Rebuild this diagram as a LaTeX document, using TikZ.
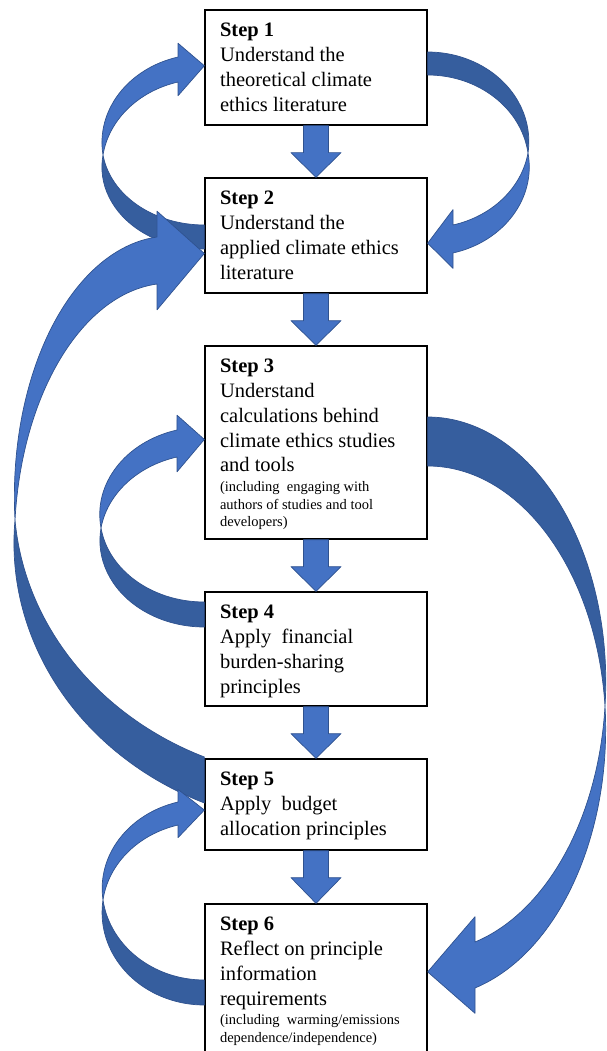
\documentclass[tikz,border=0pt]{standalone}
\usepackage{fontspec}
\setmainfont{Liberation Serif}
\usetikzlibrary{calc}

\definecolor{arrowfront}{RGB}{68,114,196}
\definecolor{arrowback}{RGB}{54,94,158}
\definecolor{arrowline}{RGB}{47,82,143}

\tikzset{
  stepbox/.style={draw=black, line width=1.3pt, fill=white, minimum width=222pt, inner sep=0pt},
  steptext/.style={anchor=base west, inner sep=0pt, text=black},
  front/.style={fill=arrowfront, draw=arrowline, line width=0.7pt, line join=round},
  back/.style={fill=arrowback, draw=arrowline, line width=0.7pt, line join=round},
}

\newcommand{\mainsize}{\fontsize{20.5pt}{24.8pt}\selectfont}
\newcommand{\notesize}{\fontsize{14.5pt}{17.6pt}\selectfont}
\newcommand{\steplines}[2]{\parbox[t]{205pt}{\raggedright\mainsize\textbf{#1}\\#2}}

% straight block arrow from the bottom of one box to the top of the next
\newcommand{\downstep}[2]{%
  \path[front] ($(#1.south)+(-12.5,0)$) -- ($(#1.south)+(12.5,0)$)
    -- ($(#1.south)+(12.5,-27)$) -- ($(#1.south)+(25,-27)$) -- (#2.north)
    -- ($(#1.south)+(-25,-27)$) -- ($(#1.south)+(-12.5,-27)$) -- cycle;}

% geometry of a curved block arrow (y values measured downwards):
% xc,yc  twist point; tt,tb  tail edges; xh  head base x; bt,bb  band edges at the head;
% fcx, dcx  centre x of the front and back ellipse pairs
\pgfkeys{/loopgeo/.cd,
  xc/.store in=\Gxc, yc/.store in=\Gyc,
  tt/.store in=\Gtt, tb/.store in=\Gtb,
  xh/.store in=\Gxh, bt/.store in=\Gbt, bb/.store in=\Gbb,
  fcx/.store in=\Gfcx, dcx/.store in=\Gdcx}

% loop on the left: tail at the west side of #1, head at the west side of #2
\newcommand{\loopleft}[3]{%
  \pgfkeys{/loopgeo/.cd,#3}%
  \path (#1.west); \pgfgetlastxy{\Ltx}{\Lty}%
  \pgfmathsetmacro{\Lthf}{\Gbb - \Gbt}%
  \pgfmathsetmacro{\Lyo}{\Gyc - \Lthf/2}%
  \pgfmathsetmacro{\Lrxf}{\Gfcx - \Gxc}%
  \pgfmathsetmacro{\Ldx}{(\Gxh - \Gfcx)/\Lrxf}%
  \pgfmathsetmacro{\Lryf}{(\Lyo - \Gbt)/sqrt(1 - \Ldx*\Ldx)}%
  \pgfmathsetmacro{\Lrxf}{(\Gfcx - \Gxc)/sqrt(1 - (\Lthf/(2*\Lryf))^2)}%
  \pgfmathsetmacro{\Ldx}{(\Gxh - \Gfcx)/\Lrxf}%
  \pgfmathsetmacro{\Lryf}{(\Lyo - \Gbt)/sqrt(1 - \Ldx*\Ldx)}%
  \pgfmathsetmacro{\Laf}{asin(\Lthf/(2*\Lryf))}%
  \pgfmathsetmacro{\Lah}{atan2((\Lyo - \Gbt)/\Lryf, \Ldx)}%
  \pgfmathsetmacro{\Lbarbt}{\Gbt - 0.55*\Lthf}%
  \pgfmathsetmacro{\Lbarbb}{\Gbb + 0.55*\Lthf}%
  \pgfmathsetmacro{\Ltipy}{(\Gbt + \Gbb)/2 - 0.15*\Lthf}%
  \pgfmathsetmacro{\Lthd}{\Gtb - \Gtt}%
  \pgfmathsetmacro{\Lyd}{\Gyc + \Lthd/2}%
  \pgfmathsetmacro{\Lrxd}{\Gdcx - \Gxc}%
  \pgfmathsetmacro{\Ldx}{(\Ltx - \Gdcx)/\Lrxd}%
  \pgfmathsetmacro{\Lryd}{(\Gtb - \Lyd)/sqrt(1 - \Ldx*\Ldx)}%
  \pgfmathsetmacro{\Lrxd}{(\Gdcx - \Gxc)/sqrt(1 - (\Lthd/(2*\Lryd))^2)}%
  \pgfmathsetmacro{\Ldx}{(\Ltx - \Gdcx)/\Lrxd}%
  \pgfmathsetmacro{\Lryd}{(\Gtb - \Lyd)/sqrt(1 - \Ldx*\Ldx)}%
  \pgfmathsetmacro{\Lad}{asin(\Lthd/(2*\Lryd))}%
  \pgfmathsetmacro{\Lat}{atan2(-(\Gtb - \Lyd)/\Lryd, \Ldx) + 360}%
  \path[back] (\Gxc,-\Gyc)
    arc[start angle=180-\Lad, end angle=\Lat, x radius=\Lrxd pt, y radius=\Lryd pt]
    -- (#1.west |- 0,-\Gtt)
    arc[start angle=\Lat, end angle=180+\Lad, x radius=\Lrxd pt, y radius=\Lryd pt] -- cycle;
  \path[front] (\Gxc,-\Gyc)
    arc[start angle=180+\Laf, end angle=\Lah, x radius=\Lrxf pt, y radius=\Lryf pt]
    -- (\Gxh,-\Lbarbt) -- (#2.west |- 0,-\Ltipy) -- (\Gxh,-\Lbarbb) -- (\Gxh,-\Gbb)
    arc[start angle=\Lah, end angle=180-\Laf, x radius=\Lrxf pt, y radius=\Lryf pt] -- cycle;
}

% loop on the right: tail at the east side of #1, head at the east side of #2
\newcommand{\loopright}[3]{%
  \pgfkeys{/loopgeo/.cd,#3}%
  \path (#1.east); \pgfgetlastxy{\Ltx}{\Lty}%
  \pgfmathsetmacro{\Lthd}{\Gtb - \Gtt}%
  \pgfmathsetmacro{\Lyd}{\Gyc - \Lthd/2}%
  \pgfmathsetmacro{\Lrxd}{\Gxc - \Gdcx}%
  \pgfmathsetmacro{\Ldx}{(\Ltx - \Gdcx)/\Lrxd}%
  \pgfmathsetmacro{\Lryd}{(\Lyd - \Gtt)/sqrt(1 - \Ldx*\Ldx)}%
  \pgfmathsetmacro{\Lrxd}{(\Gxc - \Gdcx)/sqrt(1 - (\Lthd/(2*\Lryd))^2)}%
  \pgfmathsetmacro{\Ldx}{(\Ltx - \Gdcx)/\Lrxd}%
  \pgfmathsetmacro{\Lryd}{(\Lyd - \Gtt)/sqrt(1 - \Ldx*\Ldx)}%
  \pgfmathsetmacro{\Lad}{asin(\Lthd/(2*\Lryd))}%
  \pgfmathsetmacro{\Lat}{atan2((\Lyd - \Gtt)/\Lryd, \Ldx)}%
  \pgfmathsetmacro{\Lthf}{\Gbb - \Gbt}%
  \pgfmathsetmacro{\Lyo}{\Gyc + \Lthf/2}%
  \pgfmathsetmacro{\Lrxf}{\Gxc - \Gfcx}%
  \pgfmathsetmacro{\Ldx}{(\Gxh - \Gfcx)/\Lrxf}%
  \pgfmathsetmacro{\Lryf}{(\Gbb - \Lyo)/sqrt(1 - \Ldx*\Ldx)}%
  \pgfmathsetmacro{\Lrxf}{(\Gxc - \Gfcx)/sqrt(1 - (\Lthf/(2*\Lryf))^2)}%
  \pgfmathsetmacro{\Ldx}{(\Gxh - \Gfcx)/\Lrxf}%
  \pgfmathsetmacro{\Lryf}{(\Gbb - \Lyo)/sqrt(1 - \Ldx*\Ldx)}%
  \pgfmathsetmacro{\Laf}{asin(\Lthf/(2*\Lryf))}%
  \pgfmathsetmacro{\Lah}{atan2(-(\Gbb - \Lyo)/\Lryf, \Ldx)}%
  \pgfmathsetmacro{\Lbarbt}{\Gbt - 0.55*\Lthf}%
  \pgfmathsetmacro{\Lbarbb}{\Gbb + 0.55*\Lthf}%
  \pgfmathsetmacro{\Ltipy}{(\Gbt + \Gbb)/2 + 0.15*\Lthf}%
  \path[back] (\Gxc,-\Gyc)
    arc[start angle=-\Lad, end angle=\Lat, x radius=\Lrxd pt, y radius=\Lryd pt]
    -- (#1.east |- 0,-\Gtb)
    arc[start angle=\Lat, end angle=\Lad, x radius=\Lrxd pt, y radius=\Lryd pt] -- cycle;
  \path[front] (\Gxc,-\Gyc)
    arc[start angle=\Laf, end angle=\Lah, x radius=\Lrxf pt, y radius=\Lryf pt]
    -- (\Gxh,-\Lbarbb) -- (#2.east |- 0,-\Ltipy) -- (\Gxh,-\Lbarbt) -- (\Gxh,-\Gbt)
    arc[start angle=\Lah, end angle=-\Laf, x radius=\Lrxf pt, y radius=\Lryf pt] -- cycle;
}

\begin{document}
\begin{tikzpicture}[x=1pt, y=1pt]
\useasboundingbox (0,0) rectangle (607,-1051);

% step boxes
\node[stepbox, minimum height=115pt] (s1) at (316,-67.5) {};
\node[stepbox, minimum height=115pt] (s2) at (316,-235.5) {};
\node[stepbox, minimum height=193pt] (s3) at (316,-442.5) {};
\node[stepbox, minimum height=114pt] (s4) at (316,-649) {};
\node[stepbox, minimum height=91pt]  (s5) at (316,-804.5) {};
\node[stepbox, minimum height=156pt] (s6) at (316,-982) {};

% box texts
\node[steptext] (t1) at ($(s1.north west)+(15.5,-27.3)$)
  {\steplines{Step 1}{Understand the\\theoretical climate\\ethics literature}};
\node[steptext] (t2) at ($(s2.north west)+(15.5,-27.3)$)
  {\steplines{Step 2}{Understand the\\applied climate ethics\\literature}};
\node[steptext] (t3) at ($(s3.north west)+(15.5,-27.3)$)
  {\steplines{Step 3}{Understand\\calculations behind\\climate ethics studies\\and tools\par
   \vspace{2pt}\notesize (including\ \ engaging with\\authors of studies and tool\\developers)}};
\node[steptext] (t4) at ($(s4.north west)+(15.5,-27.3)$)
  {\steplines{Step 4}{Apply\ \ financial\\burden-sharing\\principles}};
\node[steptext] (t5) at ($(s5.north west)+(15.5,-27.3)$)
  {\steplines{Step 5}{Apply\ \ budget\\allocation principles}};
\node[steptext] (t6) at ($(s6.north west)+(15.5,-27.3)$)
  {\steplines{Step 6}{Reflect on principle\\information\\requirements\par
   \vspace{2pt}\notesize (including\ \ warming/emissions\\dependence/independence)}};

% straight arrows between consecutive steps
\downstep{s1}{s2}
\downstep{s2}{s3}
\downstep{s3}{s4}
\downstep{s4}{s5}
\downstep{s5}{s6}

% feedback loops
\loopleft{s2}{s1}{xc=103, yc=155, tt=225, tb=249, xh=178, bt=57, bb=82, fcx=204.35, dcx=204.35}
\loopright{s1}{s2}{xc=528, yc=153, tt=52, tb=75, xh=453, bt=225, bb=253, fcx=427.65, dcx=427.65}
\loopleft{s4}{s3}{xc=101, yc=528, tt=602, tb=627, xh=177, bt=430, bb=457, fcx=204.35, dcx=204.35}
\loopright{s3}{s6}{xc=605, yc=706, tt=417, tb=466, xh=475, bt=942, bb=988, fcx=427.65, dcx=427.65}
\loopleft{s5}{s2}{xc=15, yc=520, tt=757, tb=803, xh=157, bt=237, bb=284, fcx=170, dcx=330}
\loopleft{s6}{s5}{xc=103, yc=900, tt=980, tb=1005, xh=178, bt=802, bb=825, fcx=204.35, dcx=204.35}

\end{tikzpicture}
\end{document}
